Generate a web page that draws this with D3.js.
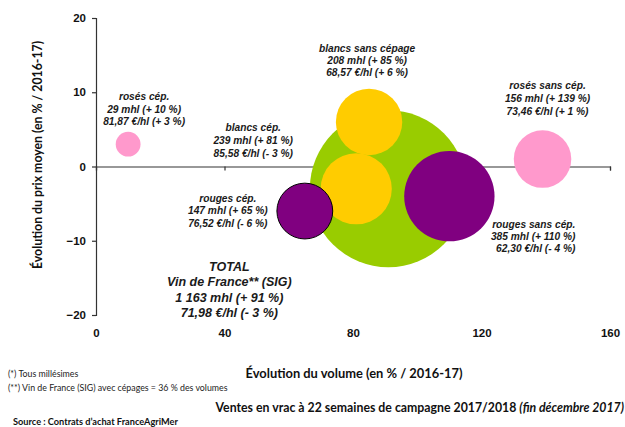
<!DOCTYPE html>
<html>
<head>
<meta charset="utf-8">
<script src="https://cdn.jsdelivr.net/npm/d3@7"></script>
<style>
  body { margin: 0; background: #fff; }
  svg { display: block; }
</style>
</head>
<body>
<script>
// Vin de France bulk sales: volume change (x) vs average price change (y), bubble area = volume
const segments    = ["TOTAL", "blancs sans cépage", "blancs cép.", "rouges sans cép.", "rosés sans cép.", "rosés cép.", "rouges cép."];
const family      = ["total", "blanc", "blanc", "rouge", "rose", "rose", "rouge"];
const volumeMhl   = [1163, 208, 239, 385, 156, 29, 147];
const volumeChg   = [91, 85, 81, 110, 139, 10, 65];      // % vs 2016-17
const pricePerHl  = [71.98, 68.57, 85.58, 62.30, 73.46, 81.87, 76.52];
const priceChg    = [-3, 6, -3, -4, 1, 3, -6];            // % vs 2016-17
const xTicks      = [0, 40, 80, 120, 160];
const yTicks      = [-20, -10, 0, 10, 20];

const W = 625, H = 427;
const svg = d3.select("body").append("svg").attr("width", W).attr("height", H);

const x = d3.scaleLinear().domain([0, 160]).range([96, 610]);
const y = d3.scaleLinear().domain([-20, 20]).range([315, 18]);
const r = d3.scaleSqrt().domain([0, 1163]).range([0, 78.5]);
const color = d3.scaleOrdinal()
  .domain(["total", "blanc", "rouge", "rose"])
  .range(["#99cc00", "#ffcc00", "#800080", "#ff99cc"]);

const fr = d3.formatLocale({ decimal: ",", thousands: "\u00a0", grouping: [3], currency: ["", " €"] });
const fmtVol = fr.format(",d");
const fmtPrice = fr.format(",.2f");
const sgn = v => (v < 0 ? "- " : "+ ") + Math.abs(v);

const rows = segments.map((s, i) => ({
  name: s, fam: family[i], vol: volumeMhl[i], vx: volumeChg[i], price: pricePerHl[i], py: priceChg[i]
}));

const AXIS = "#333";
const LABEL_FONT = "'Liberation Sans', Arial, sans-serif";
const TITLE_FONT = "Lato, 'Open Sans', sans-serif";

// x axis along y = 0, ticks only
svg.append("g")
  .attr("transform", `translate(0,${y(0)})`)
  .call(d3.axisBottom(x).tickValues(xTicks).tickFormat("").tickSize(4).tickSizeOuter(4))
  .call(g => g.selectAll("path,line").attr("stroke", AXIS).attr("stroke-width", 1.2));

// x tick labels at the bottom of the plot
svg.append("g")
  .attr("transform", `translate(0,${y(-20)})`)
  .call(d3.axisBottom(x).tickValues(xTicks).tickSize(0).tickPadding(14))
  .call(g => g.select(".domain").remove())
  .call(g => g.selectAll("text").attr("font-family", LABEL_FONT).attr("font-weight", "bold")
    .attr("font-size", 11.5).attr("fill", "#111"));

// y axis
svg.append("g")
  .attr("transform", `translate(${x(0)},0)`)
  .call(d3.axisLeft(y).tickValues(yTicks).tickSize(4).tickSizeOuter(4).tickPadding(6))
  .call(g => g.selectAll("path,line").attr("stroke", AXIS).attr("stroke-width", 1.2))
  .call(g => g.selectAll("text").attr("font-family", LABEL_FONT).attr("font-weight", "bold")
    .attr("font-size", 11.5).attr("fill", "#111"));

// bubbles: the total first, the black-outlined red cépage on top
svg.append("g").selectAll("circle")
  .data(rows)
  .join("circle")
  .attr("cx", d => x(d.vx))
  .attr("cy", d => y(d.py))
  .attr("r", d => r(d.vol))
  .attr("fill", d => color(d.fam))
  .attr("stroke", d => d.name === "rouges cép." ? "#000" : "none")
  .attr("stroke-width", 1);

// label placement relative to each bubble centre (px)
const labelPos = {
  "rosés cép.":        { dx: 16,   dy: -44,   anchor: "middle", size: 10.2, lh: 12.5 },
  "blancs cép.":       { dx: -103, dy: -57.5, anchor: "middle", size: 10.2, lh: 13 },
  "rouges cép.":       { dx: -77,  dy: -9.5,  anchor: "middle", size: 10.2, lh: 12.8 },
  "blancs sans cépage":{ dx: -2,   dy: -69.5, anchor: "middle", size: 10.2, lh: 12 },
  "rosés sans cép.":   { dx: 5,    dy: -70,   anchor: "middle", size: 10.2, lh: 13 },
  "rouges sans cép.":  { dx: 126,  dy: 31.5,  anchor: "end",    size: 10.2, lh: 12.3 },
  "TOTAL":             { dx: -159, dy: 82,    anchor: "middle", size: 12.5, lh: 15.5 }
};

const labels = svg.append("g")
  .attr("font-family", LABEL_FONT)
  .attr("font-weight", "bold")
  .attr("font-style", "italic")
  .attr("fill", "#1a1a1a");

rows.forEach(d => {
  const p = labelPos[d.name];
  const lines = d.name === "TOTAL"
    ? ["TOTAL", "Vin de France** (SIG)",
       `${fmtVol(d.vol)} mhl (${sgn(d.vx)} %)`, `${fmtPrice(d.price)} €/hl (${sgn(d.py)} %)`]
    : [d.name, `${fmtVol(d.vol)} mhl (${sgn(d.vx)} %)`, `${fmtPrice(d.price)} €/hl (${sgn(d.py)} %)`];
  const t = labels.append("text")
    .attr("text-anchor", p.anchor)
    .attr("font-size", p.size);
  lines.forEach((ln, k) => {
    t.append("tspan")
      .attr("x", x(d.vx) + p.dx)
      .attr("y", y(d.py) + p.dy + k * p.lh)
      .text(ln);
  });
});

// axis titles
svg.append("text")
  .attr("transform", `translate(42,155) rotate(-90)`)
  .attr("text-anchor", "middle")
  .attr("font-family", TITLE_FONT).attr("font-weight", "bold").attr("font-size", 12.3)
  .attr("fill", "#111")
  .text("Évolution du prix moyen (en % / 2016-17)");

svg.append("text")
  .attr("x", 354).attr("y", 378)
  .attr("text-anchor", "middle")
  .attr("font-family", TITLE_FONT).attr("font-weight", "bold").attr("font-size", 12.9)
  .attr("fill", "#111")
  .text("Évolution du volume (en % / 2016-17)");

// notes
const notes = svg.append("g").attr("font-family", TITLE_FONT).attr("fill", "#222");
notes.append("text").attr("x", 8).attr("y", 377).attr("font-size", 8.8).text("(*) Tous millésimes");
notes.append("text").attr("x", 8).attr("y", 391).attr("font-size", 8.8)
  .text("(**) Vin de France (SIG) avec cépages = 36 % des volumes");

const sub = svg.append("text")
  .attr("x", 624).attr("y", 412)
  .attr("text-anchor", "end")
  .attr("font-family", TITLE_FONT).attr("font-weight", "bold").attr("font-size", 12.3)
  .attr("fill", "#111");
sub.append("tspan").text("Ventes en vrac à 22 semaines de campagne 2017/2018 ");
sub.append("tspan").attr("font-style", "italic").text("(fin décembre 2017)");

svg.append("text")
  .attr("x", 13).attr("y", 425)
  .attr("font-family", TITLE_FONT).attr("font-weight", "bold").attr("font-size", 9.2)
  .attr("fill", "#111")
  .text("Source : Contrats d’achat FranceAgriMer");
</script>
</body>
</html>
